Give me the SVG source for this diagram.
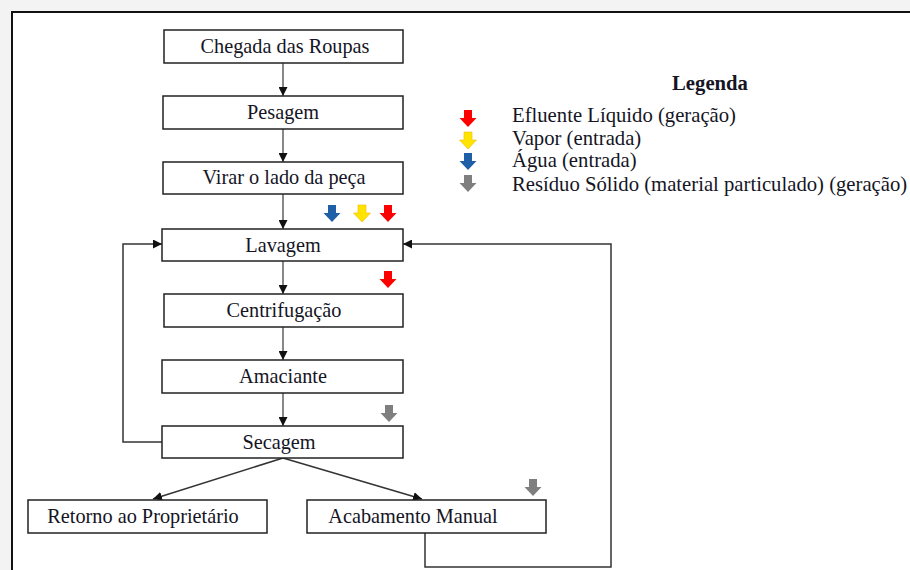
<svg xmlns="http://www.w3.org/2000/svg" width="910" height="570" viewBox="0 0 910 570">
<style>
.box{fill:#fff;stroke:#222;stroke-width:1.5}
.t{font-family:"Liberation Serif","Times New Roman",serif;font-size:20.3px;fill:#151525;text-anchor:middle}
.lg{font-family:"Liberation Serif","Times New Roman",serif;font-size:20.7px;fill:#151525}
.c{fill:none;stroke:#888;stroke-width:2}
.k{fill:none;stroke:#333;stroke-width:1.5}
</style>
<defs>
<marker id="ah" viewBox="0 0 10 10" refX="10" refY="5" markerWidth="9" markerHeight="9" markerUnits="userSpaceOnUse" orient="auto">
<path d="M0,0 L10,5 L0,10 Z" fill="#111"/>
</marker>
<path id="ba" d="M-4,0 H4 V8 H8.5 L0,17 L-8.5,8 H-4 Z"/>
</defs>
<rect x="0" y="0" width="910" height="570" fill="#f3f3f3"/>
<rect x="12" y="12" width="910" height="570" fill="#fff" stroke="#111" stroke-width="2"/>

<g id="connectors">
<line class="c" x1="283" y1="63" x2="283" y2="96" marker-end="url(#ah)"/>
<line class="c" x1="283" y1="129" x2="283" y2="162" marker-end="url(#ah)"/>
<line class="c" x1="283" y1="194" x2="283" y2="229" marker-end="url(#ah)"/>
<line class="c" x1="283" y1="261" x2="283" y2="294" marker-end="url(#ah)"/>
<line class="c" x1="283" y1="327" x2="283" y2="360" marker-end="url(#ah)"/>
<line class="c" x1="283" y1="393" x2="283" y2="426" marker-end="url(#ah)"/>
<polyline class="k" points="162,442 123,442 123,244 162,244" marker-end="url(#ah)"/>
<polyline class="k" points="425,533 425,567 611,567 611,244 403,244" marker-end="url(#ah)"/>
<line class="k" x1="283" y1="458" x2="153" y2="499" marker-end="url(#ah)"/>
<line class="k" x1="283" y1="458" x2="422" y2="499" marker-end="url(#ah)"/>
</g>

<g id="n1"><rect class="box" x="164" y="30" width="239" height="33"/><text class="t" x="285" y="53">Chegada das Roupas</text></g>
<g id="n2"><rect class="box" x="163" y="96" width="240" height="33"/><text class="t" x="283" y="119">Pesagem</text></g>
<g id="n3"><rect class="box" x="163" y="162" width="240" height="32"/><text class="t" x="284" y="184">Virar o lado da peça</text></g>
<g id="n4"><rect class="box" x="162" y="229" width="241" height="32"/><text class="t" x="283" y="252">Lavagem</text></g>
<g id="n5"><rect class="box" x="164" y="294" width="239" height="33"/><text class="t" x="284" y="317">Centrifugação</text></g>
<g id="n6"><rect class="box" x="162" y="360" width="241" height="33"/><text class="t" x="283" y="383">Amaciante</text></g>
<g id="n7"><rect class="box" x="162" y="426" width="241" height="32"/><text class="t" x="279" y="449">Secagem</text></g>
<g id="n8"><rect class="box" x="28" y="500" width="239" height="33"/><text class="t" x="143" y="523">Retorno ao Proprietário</text></g>
<g id="n9"><rect class="box" x="307" y="500" width="239" height="33"/><text class="t" x="413" y="523">Acabamento Manual</text></g>

<g id="flows">
<use href="#ba" x="332" y="205" fill="#1f5fa8"/>
<use href="#ba" x="362" y="205" fill="#ffe400" stroke="#f5b800" stroke-width="0.6"/>
<use href="#ba" x="388" y="205" fill="#ff0000"/>
<use href="#ba" x="388" y="271" fill="#ff0000"/>
<use href="#ba" x="389" y="405" fill="#7f7f7f"/>
<use href="#ba" x="533" y="479" fill="#7f7f7f"/>
</g>

<g id="legend">
<text class="lg" x="710" y="90" text-anchor="middle" font-weight="bold">Legenda</text>
<use href="#ba" x="468" y="110" fill="#ff0000"/>
<use href="#ba" x="468" y="132" fill="#ffe400" stroke="#f5b800" stroke-width="0.6"/>
<use href="#ba" x="468" y="153" fill="#1f5fa8"/>
<use href="#ba" x="468" y="175" fill="#7f7f7f"/>
<text class="lg" x="512" y="122">Efluente Líquido (geração)</text>
<text class="lg" x="512" y="145">Vapor (entrada)</text>
<text class="lg" x="512" y="167">Água (entrada)</text>
<text class="lg" x="512" y="191">Resíduo Sólido (material particulado) (geração)</text>
</g>
</svg>
